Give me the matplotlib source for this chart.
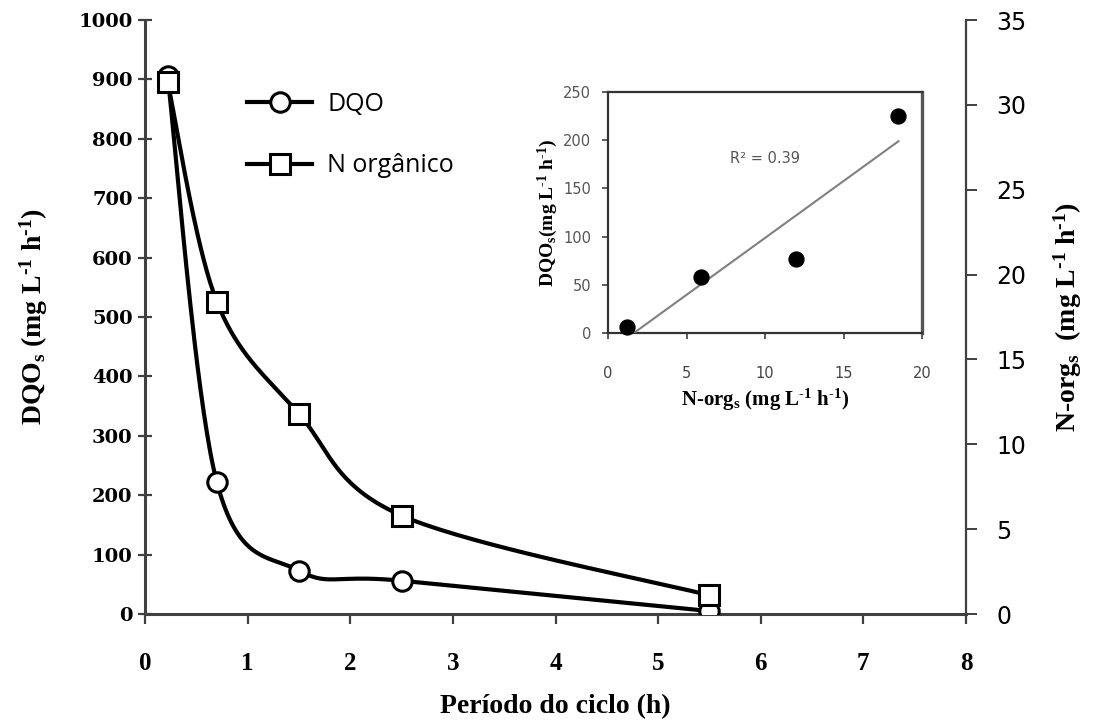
import numpy as np
import matplotlib
matplotlib.use("Agg")
import matplotlib.pyplot as plt
from matplotlib.lines import Line2D

# ---------------- data ----------------
tempo_h = [0.22, 0.7, 1.5, 2.5, 5.5]
dqo = [906, 222, 73, 56, 5]
n_org = [31.35, 18.4, 11.8, 5.8, 1.1]

inset_n = [1.2, 5.9, 12.0, 18.5]
inset_dqo = [6, 58, 77, 225]
r2_label = "R² = 0.39"

x_ticks = [0, 1, 2, 3, 4, 5, 6, 7, 8]
left_ticks = [0, 100, 200, 300, 400, 500, 600, 700, 800, 900, 1000]
right_ticks = [0, 5, 10, 15, 20, 25, 30, 35]
inset_xticks = [0, 5, 10, 15, 20]
inset_yticks = [0, 50, 100, 150, 200, 250]

SPINE = "#404040"
W, H = 1109, 722

plt.rcParams["mathtext.fontset"] = "custom"
plt.rcParams["mathtext.rm"] = "Liberation Serif:bold"
plt.rcParams["mathtext.it"] = "Liberation Serif:bold"
plt.rcParams["mathtext.bf"] = "Liberation Serif:bold"

UNIT = r"(mg L$^{\text{-1}}$ h$^{\text{-1}}$)"


def smooth(xs, ys, xlim, ylim, wpx, hpx, n=40):
    """Excel-like Catmull-Rom smoothing done in display (pixel) space."""
    px = (np.asarray(xs, float) - xlim[0]) / (xlim[1] - xlim[0]) * wpx
    py = (np.asarray(ys, float) - ylim[0]) / (ylim[1] - ylim[0]) * hpx
    P = np.column_stack([px, py])
    m = len(P)
    out = []
    for i in range(m - 1):
        p0 = P[i - 1] if i > 0 else P[i]
        p1 = P[i]
        p2 = P[i + 1]
        p3 = P[i + 2] if i + 2 < m else P[i + 1]
        c1 = p1 + (p2 - p0) / 6.0
        c2 = p2 - (p3 - p1) / 6.0
        t = np.linspace(0, 1, n)[:, None]
        seg = ((1 - t) ** 3) * p1 + 3 * ((1 - t) ** 2) * t * c1 + 3 * (1 - t) * t ** 2 * c2 + t ** 3 * p2
        out.append(seg if i == 0 else seg[1:])
    S = np.vstack(out)
    sx = S[:, 0] / wpx * (xlim[1] - xlim[0]) + xlim[0]
    sy = S[:, 1] / hpx * (ylim[1] - ylim[0]) + ylim[0]
    return sx, sy


fig = plt.figure(figsize=(W / 100, H / 100), dpi=100)
ax_l, ax_r, ax_b, ax_t = 145, 966, 614, 20
ax = fig.add_axes([ax_l / W, 1 - ax_b / H, (ax_r - ax_l) / W, (ax_b - ax_t) / H])
ax2 = ax.twinx()

xlim = (0, 8)
ylim_l = (0, 1000)
ylim_r = (0, 35)
wpx, hpx = ax_r - ax_l, ax_b - ax_t

lw = 3.0
ms = 14
mew = 2.2

sx, sy = smooth(tempo_h, dqo, xlim, ylim_l, wpx, hpx)
ax.plot(sx, sy, color="black", lw=lw, solid_capstyle="round", zorder=3)
ax.plot(tempo_h, dqo, ls="none", marker="o", ms=ms, mew=mew, mfc="white", mec="black", zorder=4)

sx2, sy2 = smooth(tempo_h, n_org, xlim, ylim_r, wpx, hpx)
ax2.plot(sx2, sy2, color="black", lw=lw, solid_capstyle="round", zorder=3)
ax2.plot(tempo_h, n_org, ls="none", marker="s", ms=ms, mew=mew, mfc="white", mec="black", zorder=4)

ax.set_xlim(*xlim)
ax.set_ylim(*ylim_l)
ax2.set_ylim(*ylim_r)

for a in (ax, ax2):
    a.spines["top"].set_visible(False)
    for s in a.spines.values():
        s.set_color(SPINE)
ax.spines["right"].set_visible(False)
ax2.spines["left"].set_visible(False)
ax2.spines["bottom"].set_visible(False)
ax.spines["left"].set_linewidth(2.2)
ax.spines["bottom"].set_linewidth(2.2)
ax2.spines["right"].set_linewidth(1.6)

ax.set_xticks(x_ticks)
ax.set_xticklabels([str(v) for v in x_ticks], family="Liberation Serif", weight="bold", fontsize=18)
ax.tick_params(axis="x", direction="out", length=7, width=1.6, color=SPINE, pad=20)
ax.set_yticks(left_ticks)
ax.set_yticklabels([str(v) for v in left_ticks], family="DejaVu Serif", weight="bold", fontsize=14)
ax.tick_params(axis="y", direction="inout", length=10, width=1.6, color=SPINE, pad=4)
ax2.set_yticks(right_ticks)
ax2.set_yticklabels([str(v) for v in right_ticks], family="DejaVu Sans", fontsize=17)
ax2.tick_params(axis="y", direction="out", length=8, width=1.4, color=SPINE, pad=14)

ax.set_xlabel("Período do ciclo (h)", family="Liberation Serif", weight="bold", fontsize=20, labelpad=14)
ax.set_ylabel(r"DQO$_{\mathregular{s}}$ " + UNIT,
              family="Liberation Serif", weight="bold", fontsize=20, labelpad=20)
ax2.set_ylabel(r"N-org$_{\mathregular{s}}$  " + UNIT,
               family="Liberation Serif", weight="bold", fontsize=20, labelpad=18)

# legend
handles = [
    Line2D([], [], color="black", lw=lw, marker="o", ms=ms, mew=mew, mfc="white", mec="black"),
    Line2D([], [], color="black", lw=lw, marker="s", ms=ms, mew=mew, mfc="white", mec="black"),
]
leg = ax2.legend(handles, ["DQO", "N orgânico"], loc="upper left",
                 bbox_to_anchor=(247 / W, 1 - 92 / H), bbox_transform=fig.transFigure,
                 frameon=False, borderpad=0, borderaxespad=0, handlelength=2.6,
                 handletextpad=0.6, labelspacing=1.45, prop={"family": "Open Sans", "size": 18})

# ---------------- inset ----------------
il, ir, ib, it = 608, 922, 333, 92
axi = fig.add_axes([il / W, 1 - ib / H, (ir - il) / W, (ib - it) / H])
axi.set_zorder(5)
axi.scatter(inset_n, inset_dqo, s=115, color="black", zorder=4, clip_on=False)
coef = np.polyfit(inset_n, inset_dqo, 1)
fx = np.array([min(inset_n), max(inset_n)])
axi.plot(fx, np.polyval(coef, fx), color="#808080", lw=1.5, zorder=3)
axi.set_xlim(0, 20)
axi.set_ylim(0, 250)
axi.set_xticks(inset_xticks)
axi.set_xticklabels([str(v) for v in inset_xticks], family="DejaVu Sans", fontsize=10.5, color="#444444")
axi.set_yticks(inset_yticks)
axi.set_yticklabels([str(v) for v in inset_yticks], family="DejaVu Sans", fontsize=10.5, color="#555555")
axi.tick_params(axis="x", direction="out", length=4, width=1.2, color=SPINE, pad=20)
axi.tick_params(axis="y", direction="out", length=4, width=1.2, color=SPINE, pad=8)
for name, s in axi.spines.items():
    s.set_color("#333333")
    s.set_linewidth(1.6)
axi.spines["right"].set_color("#555555")
axi.spines["right"].set_linewidth(2.4)
axi.text(10.0, 181, r2_label, ha="center", va="center", family="DejaVu Sans", fontsize=10.5, color="#555555")
axi.set_xlabel(r"N-org$_{\mathregular{s}}$ " + UNIT,
               family="Liberation Serif", weight="bold", fontsize=15, labelpad=4)
axi.set_ylabel(r"DQO$_{\mathregular{s}}$" + UNIT,
               family="Liberation Serif", weight="bold", fontsize=14, labelpad=2)

fig.savefig("out.png", dpi=100)
